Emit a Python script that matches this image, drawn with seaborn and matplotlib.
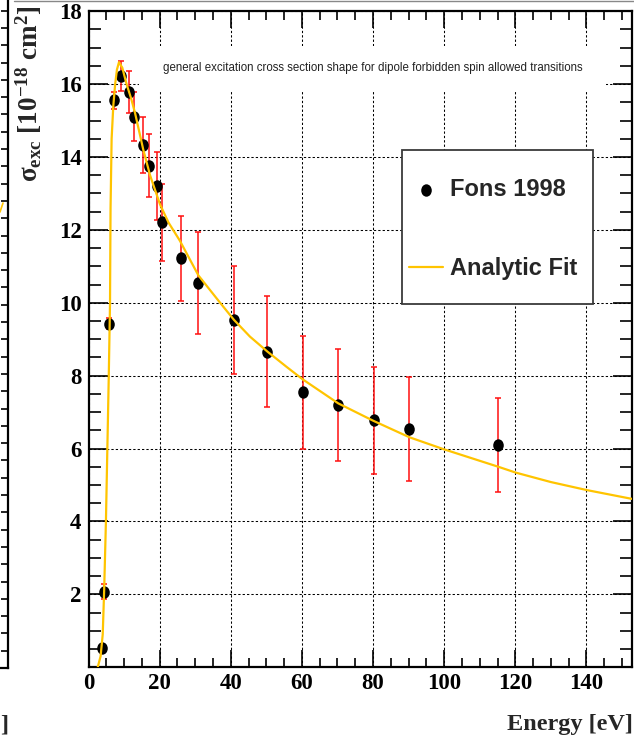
import numpy as np
import pandas as pd
import matplotlib
matplotlib.use("Agg")
import matplotlib.pyplot as plt
import matplotlib.path as mpath
from matplotlib.transforms import Affine2D
from matplotlib.patches import Rectangle
from matplotlib.lines import Line2D
from matplotlib.ticker import MultipleLocator
import seaborn as sns

# ---------------- data ----------------
energy = [3.9, 4.36, 5.85, 7.1, 9.14, 11.47, 12.88, 15.4, 17.0, 19.17,
          20.57, 25.9, 30.9, 40.9, 50.3, 60.2, 70.2, 80.2, 90.2, 115.2]
sigma = [0.54, 2.07, 9.43, 15.56, 16.22, 15.79, 15.1, 14.33, 13.76, 13.21,
         12.21, 11.22, 10.53, 9.53, 8.66, 7.54, 7.19, 6.77, 6.53, 6.10]
sigma_err = [0.05, 0.2, 0.15, 0.23, 0.41, 0.57, 0.67, 0.76, 0.87, 0.93,
             1.06, 1.16, 1.40, 1.49, 1.53, 1.55, 1.53, 1.48, 1.42, 1.29]

fit_energy = [2.6, 3.4, 4.0, 4.4, 4.9, 5.3, 5.7, 6.05, 6.2, 6.5, 6.97, 7.5,
              8.0, 8.57, 9.5, 10.7, 12.0, 13.1, 15.4, 17.3, 20.1, 22.5, 25.7,
              30.9, 37.0, 40.9, 45.4, 50.3, 55.7, 60.2, 70.2, 80.1, 90.2, 99.9,
              115.2, 120.1, 130.0, 140.1, 152.7]
fit_sigma = [0.0, 0.3, 0.9, 2.1, 4.0, 6.0, 8.0, 10.0, 12.6, 14.5, 15.4, 16.0,
             16.4, 16.6, 16.45, 16.0, 15.6, 15.2, 14.2, 13.5, 12.7, 12.2, 11.7,
             10.75, 10.0, 9.53, 9.07, 8.66, 8.24, 7.9, 7.24, 6.76, 6.31, 5.98,
             5.5, 5.34, 5.08, 4.86, 4.62]

x_ticks = [0, 20, 40, 60, 80, 100, 120, 140]
y_ticks = [2, 4, 6, 8, 10, 12, 14, 16, 18]
series_labels = ["Fons 1998", "Analytic Fit"]
note_text = "general excitation cross section shape for dipole forbidden spin allowed transitions"
x_title = "Energy [eV]"
y_title = r"σ$_{\rm exc}$ [10$^{-18}$ cm$^{2}$]"

# neighbouring panel fragment (left edge)
nb_curve_x = [0.0, 3.0]
nb_curve_y = [212.0, 203.0]

# ---------------- style ----------------
sns.set_theme(style="white")
plt.rcParams["font.family"] = ["Liberation Serif", "DejaVu Serif"]
plt.rcParams["mathtext.fontset"] = "custom"
plt.rcParams["mathtext.rm"] = "Liberation Serif:bold"
plt.rcParams["mathtext.it"] = "Liberation Serif:bold"
plt.rcParams["mathtext.bf"] = "Liberation Serif:bold"
plt.rcParams["mathtext.default"] = "rm"

W, H = 634, 739
fig = plt.figure(figsize=(W / 100, H / 100), dpi=100)
fig.patch.set_facecolor("white")

L, R, T, B = 88.5, 631.7, 11.2, 667.2
ax = fig.add_axes([L / W, 1 - B / H, (R - L) / W, (B - T) / H])
ax.set_facecolor("white")


def fx(px):
    return px / W


def fy(py):
    return 1 - py / H


df = pd.DataFrame({"Energy": energy, "sigma": sigma, "err": sigma_err})
fit_df = pd.DataFrame({"Energy": fit_energy, "sigma": fit_sigma})

ax.errorbar(df["Energy"], df["sigma"], yerr=df["err"], fmt="none",
            ecolor="#FF1010", elinewidth=1.1, capsize=2.3, capthick=1.1,
            zorder=3)

ell = mpath.Path.unit_circle().transformed(Affine2D().scale(0.85, 1.0))
sns.scatterplot(data=df, x="Energy", y="sigma", ax=ax, color="black",
                marker=ell, s=80, linewidth=0, label=series_labels[0],
                zorder=4)
sns.lineplot(data=fit_df, x="Energy", y="sigma", ax=ax, color="#FFC400",
             linewidth=1.6, label=series_labels[1], sort=False,
             estimator=None, zorder=5)

ax.set_xlim(0, (R - L) / 3.557)
ax.set_ylim(0, 18)
ax.set_xticks(x_ticks)
ax.set_yticks(y_ticks)
ax.xaxis.set_minor_locator(MultipleLocator(5))
ax.yaxis.set_minor_locator(MultipleLocator(0.5))
ax.grid(True, which="major", color="black", linestyle=(0, (2.2, 2.0)),
        linewidth=0.75)
ax.set_axisbelow(True)

ax.tick_params(axis="x", which="major", direction="in", length=12.2,
               width=1.2, top=True, bottom=True, color="black", pad=4.5)
ax.tick_params(axis="x", which="minor", direction="in", length=6.7,
               width=1.2, top=True, bottom=True, color="black")
ax.tick_params(axis="y", which="major", direction="in", length=14.0,
               width=1.2, left=True, right=True, color="black", pad=5)
ax.tick_params(axis="y", which="minor", direction="in", length=8.4,
               width=1.2, left=True, right=True, color="black")
for lab in ax.get_xticklabels() + ax.get_yticklabels():
    lab.set_fontweight("bold")
    lab.set_fontsize(16.5)
    lab.set_color("black")
    lab.set_family("Liberation Serif")
for s in ax.spines.values():
    s.set_color("black")
    s.set_linewidth(1.6)

ax.set_xlabel("")
ax.set_ylabel("")
fig.text(fx(633), fy(730), x_title, ha="right", va="baseline",
         fontsize=17.5, fontweight="bold", family="Liberation Serif")
fig.text(fx(29), fy(6), y_title, ha="center", va="top", rotation=90,
         fontsize=19.5, fontweight="bold", family="Liberation Serif")

# white box behind note text
ax.add_patch(Rectangle((fx(139), fy(90)), fx(606) - fx(139), fy(46) - fy(90),
                       transform=fig.transFigure, facecolor="white",
                       edgecolor="none", zorder=1.8))
ax.text(fx(373), fy(68.5), note_text, transform=fig.transFigure,
        ha="center", va="center", fontsize=8.3, family="Liberation Sans",
        color="#222222", zorder=7)

# legend box
ax.add_patch(Rectangle((fx(401.7), fy(304)), fx(593.3) - fx(401.7),
                       fy(150) - fy(304), transform=fig.transFigure,
                       facecolor="white", edgecolor="#3a3a3a", linewidth=1.3,
                       zorder=6))
handles, labels = ax.get_legend_handles_labels()
fs_pt = 17
fs_px = fs_pt / 0.72
leg = ax.legend(handles, labels, frameon=False, loc="upper left",
                bbox_to_anchor=(fx(409), fy(178.5)),
                bbox_transform=fig.transFigure, borderpad=0,
                borderaxespad=0, handlelength=34 / fs_px,
                handletextpad=7.3 / fs_px, labelspacing=2.35,
                prop=dict(family="Liberation Sans", weight="bold", size=fs_pt))
leg.set_zorder(7)

# neighbouring panel fragment at the left edge
nax = fig.add_axes([fx(-100), fy(668), fx(107.5), 1 - fy(668) + 0.2])
nax.set_xlim(-100, 7.5)
nax.set_ylim(668, 668 - (668 / (1 - fy(668))) * (1 - fy(668) + 0.2))
nax.patch.set_alpha(0)
for k in ["left", "top"]:
    nax.spines[k].set_visible(False)
nax.spines["right"].set_linewidth(1.6)
nax.spines["bottom"].set_linewidth(1.6)
nax.spines["right"].set_color("black")
nax.spines["bottom"].set_color("black")
nax.yaxis.tick_right()
nax.set_yticks(np.arange(668, -20, -17.3))
nax.set_xticks([])
nax.tick_params(axis="y", direction="in", length=5, width=1.2,
                labelright=False, color="black")
nax.plot(nb_curve_x, nb_curve_y, color="#FFC400", linewidth=1.2)
fig.text(fx(8), fy(730), "]", ha="right", va="baseline", fontsize=17.5,
         fontweight="bold", family="Liberation Serif")
fig.add_artist(Line2D([fx(14), 1.0], [fy(0.8), fy(0.8)],
                      transform=fig.transFigure, color="#888888",
                      linewidth=1.0))

fig.savefig("out.png", dpi=100)
